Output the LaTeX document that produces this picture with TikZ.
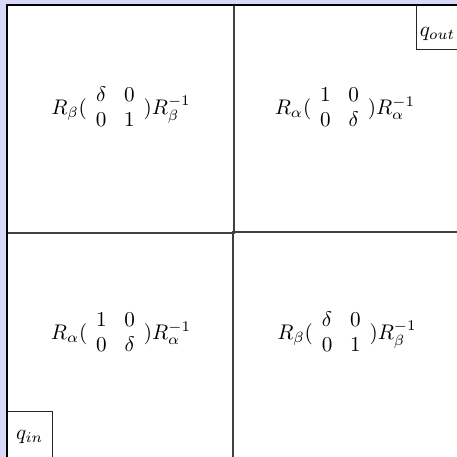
\documentclass[tikz,border=0pt]{standalone}
\usepackage{amsmath}
\usepackage{tikz}
\usetikzlibrary{positioning}
\definecolor{slidebg}{RGB}{216,216,250}
\setlength{\arraycolsep}{4.2pt}

\begin{document}
\begin{tikzpicture}[
  cell/.style={draw=black!75, line width=0.9pt, inner sep=0pt},
  portbox/.style={draw=black!85, line width=0.6pt, fill=white}
]
\useasboundingbox (0,0) rectangle (7.6,7.6);
\fill[slidebg] (0,0) rectangle (7.6,7.6);
\clip (0,0) rectangle (7.6,7.6);

% Outer frame
\node[draw=black, fill=white, line width=1.2pt, outer sep=0pt, minimum width=7.634cm,
  minimum height=7.6cm, anchor=north west] (frame) at (0.116,7.517) {};

% Upper left cell
\node[cell, minimum width=3.775cm, minimum height=3.797cm] (UL) at (2.004,5.619) {};
\node (labUL) at (2.012,5.787)
  {$R_\beta(\begin{array}{cc}\delta & 0\\ 0 & 1\end{array})R_\beta^{-1}$};

% Upper right cell
\node[cell, minimum width=3.859cm, minimum height=3.770cm] (UR) at (5.821,5.632) {};
\node (labUR) at (5.737,5.787)
  {$R_\alpha(\begin{array}{cc}1 & 0\\ 0 & \delta\end{array})R_\alpha^{-1}$};

% Lower left cell
\node[cell, minimum width=3.764cm, minimum height=3.803cm] (LL) at (1.998,1.819) {};
\node (labLL) at (2.012,2.046)
  {$R_\alpha(\begin{array}{cc}1 & 0\\ 0 & \delta\end{array})R_\alpha^{-1}$};

% Lower right cell
\node[cell, minimum width=3.870cm, minimum height=3.830cm] (LR) at (5.815,1.832) {};
\node (labLR) at (5.770,2.046)
  {$R_\beta(\begin{array}{cc}\delta & 0\\ 0 & 1\end{array})R_\beta^{-1}$};

% In and out ports
\node[portbox, anchor=north west, inner xsep=1.5pt, inner ysep=3pt, text width=0.75cm,
  align=left, text height=11.6pt, text depth=3.1pt] (qout) at (6.918,7.517) {$q_{out}$};
\node[portbox, minimum width=0.765cm, minimum height=0.848cm, anchor=south west]
  (qin) at (LL.south west) {$q_{in}$};

% Frame edges on top
\draw[line width=1.2pt] (frame.south west) -- (frame.north west) -- (frame.north east);

\end{tikzpicture}
\end{document}
